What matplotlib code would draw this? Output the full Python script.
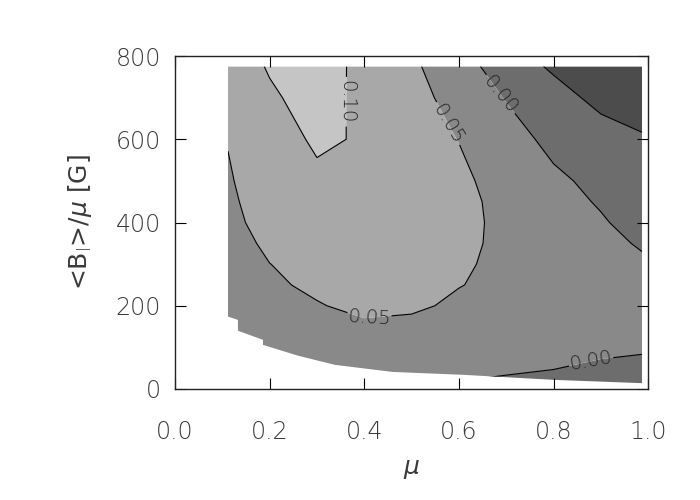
import numpy as np
import matplotlib.pyplot as plt
from matplotlib.patches import Polygon

# grid nodes
mu = [0.112, 0.2, 0.3, 0.4, 0.5, 0.6, 0.7, 0.8, 0.9, 0.987]
B = [0, 50, 100, 150, 200, 250, 300, 350, 400, 450, 500, 600, 700, 775]

# estimated field values, one row per B node
Z = [
    [-0.030, -0.020, -0.012, -0.006, -0.006, -0.006, -0.006, -0.015, -0.025, -0.030],
    [-0.005, 0.004, 0.012, 0.018, 0.016, 0.010, 0.003, 0.001, -0.007, -0.010],
    [0.000, 0.010, 0.020, 0.028, 0.027, 0.024, 0.020, 0.015, 0.009, 0.005],
    [0.005, 0.018, 0.030, 0.040, 0.038, 0.032, 0.028, 0.022, 0.016, 0.012],
    [0.015, 0.030, 0.046, 0.065, 0.058, 0.0417, 0.035, 0.028, 0.022, 0.018],
    [0.020, 0.040, 0.0617, 0.068, 0.063, 0.0515, 0.039, 0.029, 0.020, 0.012],
    [0.025, 0.0495, 0.066, 0.070, 0.066, 0.054, 0.0432, 0.030, 0.017, 0.006],
    [0.030, 0.0591, 0.075, 0.077, 0.072, 0.058, 0.0423, 0.026, 0.011, -0.004],
    [0.035, 0.0707, 0.082, 0.082, 0.076, 0.062, 0.0398, 0.022, 0.004, -0.015],
    [0.040, 0.0767, 0.087, 0.085, 0.077, 0.062, 0.0375, 0.015, -0.0038, -0.020],
    [0.045, 0.079, 0.092, 0.088, 0.078, 0.062, 0.0267, 0.008, -0.011, -0.025],
    [0.052, 0.080, 0.1063, 0.0961, 0.075, 0.0487, 0.018, -0.0115, -0.030, -0.045],
    [0.075, 0.095, 0.1135, 0.0917, 0.068, 0.0305, -0.0023, -0.032, -0.063, -0.075],
    [0.080, 0.103, 0.110, 0.094, 0.058, 0.020, -0.024, -0.057, -0.075, -0.090],
]

# outline of the region with valid values
edge_mu = [0.112, 0.112, 0.133, 0.133, 0.186, 0.186, 0.26, 0.338, 0.46, 0.61, 0.80, 0.987, 0.987]
edge_B = [775, 174, 166, 140, 118, 106, 80, 58, 41, 34, 22, 14, 775]

levels = [-0.2, -0.05, 0.0, 0.05, 0.10, 0.2]
greys = ['#4c4c4c', '#6d6d6d', '#898989', '#a8a8a8', '#c5c5c5']
plain_levels = [-0.05]
label_levels = [0.0, 0.05, 0.10]
label_pos = [(0.362, 690), (0.58, 640), (0.69, 710), (0.41, 176), (0.88, 62)]

txt = '#3a3a3a'
plt.rcParams['font.family'] = ['DejaVu Sans']
plt.rcParams['font.weight'] = 'light'
plt.rcParams['mathtext.fontset'] = 'custom'
plt.rcParams['mathtext.rm'] = 'DejaVu Sans:light'
plt.rcParams['mathtext.it'] = 'DejaVu Sans:italic:light'

fig = plt.figure(figsize=(7, 5), dpi=100)
ax = fig.add_axes([0.25, 0.222, 0.676, 0.666])

clip = Polygon(np.column_stack([edge_mu, edge_B]), closed=True,
               transform=ax.transData, facecolor='none', edgecolor='none')

cf = ax.contourf(mu, B, Z, levels=levels, colors=greys, antialiased=True)
cf.set_clip_path(clip)
c1 = ax.contour(mu, B, Z, levels=plain_levels, colors='k', linewidths=0.8,
                linestyles='solid')
c1.set_clip_path(clip)
cl = ax.contour(mu, B, Z, levels=label_levels, colors='k', linewidths=0.8,
                linestyles='solid')
cl.set_clip_path(clip)
labs = ax.clabel(cl, manual=label_pos, fmt='%.2f',
                 fontsize=14, inline=True, inline_spacing=4, colors='#222222')
for t in labs:
    r = t.get_rotation() % 360
    if r > 180:
        r -= 360
    if r > 80:
        r -= 180
    elif r < -100:
        r += 180
    t.set_transform_rotates_text(False)
    t.set_rotation(r)

ax.set_xlim(0, 1)
ax.set_ylim(0, 800)
ax.set_xticks([0.0, 0.2, 0.4, 0.6, 0.8, 1.0])
ax.set_yticks([0, 200, 400, 600, 800])
ax.set_xticklabels(['0.0', '0.2', '0.4', '0.6', '0.8', '1.0'])
ax.tick_params(direction='in', length=8, width=0.8, top=True, right=True,
               labelsize=17, labelcolor=txt)
ax.tick_params(axis='x', pad=22)
ax.tick_params(axis='y', pad=10)
for s in ax.spines.values():
    s.set_linewidth(1.0)
    s.set_color('#222222')

ax.set_xlabel(r'$\mu$', fontsize=18, color=txt, labelpad=10)
ax.set_ylabel(r'<B$_{\rm l}$>/$\mu$ [G]', fontsize=18, color=txt, labelpad=16)

fig.savefig('out.png', dpi=100)
